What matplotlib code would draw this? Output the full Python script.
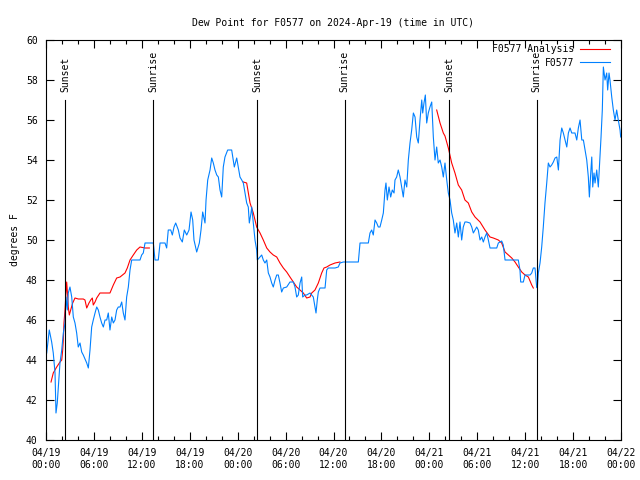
import pandas as pd
import matplotlib
matplotlib.use("Agg")
import matplotlib.pyplot as plt
import matplotlib.dates as mdates

plt.rcParams['font.family'] = 'DejaVu Sans Mono'
plt.rcParams['font.size'] = 7

start = pd.Timestamp('2024-04-19 00:00')

# observed dew point (hours since 04/19 00:00 UTC, degrees F)
obs_hours = [0.09, 0.41, 0.71, 0.91, 1.13, 1.25, 1.41, 1.54, 1.75, 1.97, 2.17, 2.38, 2.5, 2.67, 2.79,
             3.0, 3.22, 3.42, 3.63, 3.84, 4.04, 4.26, 4.47, 4.67, 5.1, 5.3, 5.51, 5.72, 5.92, 6.14,
             6.35, 6.55, 6.76, 6.97, 7.18, 7.39, 7.6, 7.8, 8.01, 8.23, 8.43, 8.64, 8.85, 9.05, 9.27,
             9.48, 9.68, 9.89, 10.1, 10.31, 10.52, 10.73, 11.14, 11.77, 11.98, 12.18, 12.4, 13.44,
             13.65, 14.06, 14.28, 14.9, 15.11, 15.31, 15.62, 15.82, 16.03, 16.24, 16.57, 16.78,
             17.07, 17.32, 17.62, 17.91, 18.16, 18.37, 18.53, 18.87, 19.2, 19.41, 19.62, 19.91,
             20.04, 20.25, 20.54, 20.75, 20.95, 21.16, 21.38, 21.58, 21.79, 22.0, 22.2, 22.41,
             22.75, 23.25, 23.45, 23.58, 23.88, 24.08, 24.29, 24.51, 24.71, 24.92, 25.13, 25.33,
             25.46, 25.67, 25.76, 25.96, 26.17, 26.38, 26.46, 26.8, 27.01, 27.21, 27.42, 27.64,
             27.84, 28.05, 28.26, 28.46, 28.68, 28.89, 29.09, 29.3, 29.51, 29.72, 30.14, 30.55,
             30.97, 31.18, 31.39, 31.59, 31.81, 32.02, 32.14, 32.43, 32.64, 33.06, 33.47, 33.68,
             33.81, 33.97, 34.1, 34.31, 34.94, 35.15, 35.35, 36.19, 36.6, 36.81, 37.23, 39.11,
             39.32, 40.36, 40.57, 40.78, 40.98, 41.2, 41.41, 41.61, 41.82, 42.04, 42.24, 42.45,
             42.57, 42.74, 42.95, 43.16, 43.36, 43.58, 43.7, 43.91, 44.11, 44.33, 44.54, 44.74,
             44.95, 45.17, 45.37, 45.58, 45.79, 46.0, 46.21, 46.42, 46.62, 46.83, 47.05, 47.17,
             47.33, 47.5, 47.67, 47.87, 48.08, 48.3, 48.5, 48.71, 48.92, 49.12, 49.34, 49.55,
             49.75, 49.96, 50.18, 50.38, 50.59, 50.8, 51.0, 51.21, 51.43, 51.63, 51.84, 52.05,
             52.25, 52.46, 52.68, 53.09, 53.31, 53.51, 53.93, 54.13, 54.35, 54.56, 54.76, 54.97,
             55.19, 55.39, 55.6, 56.44, 56.64, 57.06, 57.26, 57.48, 59.14, 59.35, 59.44, 59.77,
             59.98, 60.61, 60.82, 61.02, 61.23, 61.36, 61.44, 61.52, 61.65, 61.86, 62.07, 62.27,
             62.48, 62.7, 62.9, 63.11, 63.32, 63.53, 63.74, 63.96, 64.16, 64.37, 64.58, 64.78,
             64.99, 65.21, 65.41, 65.62, 65.83, 66.03, 66.24, 66.46, 66.66, 66.87, 67.09, 67.29,
             67.5, 67.71, 67.91, 68.04, 68.21, 68.34, 68.46, 68.62, 68.75, 68.96, 69.16, 69.37,
             69.5, 69.66, 69.79, 70.0, 70.21, 70.33, 70.5, 70.62, 70.84, 71.04, 71.25, 71.46,
             71.66, 71.88, 71.96]
obs_dewpt = [44.35, 45.5, 44.9, 44.35, 43.35, 41.35, 41.85, 42.6, 43.85, 44.5, 45.35, 45.85, 47.15, 46.5, 47.35,
             47.65, 47.15, 46.15, 45.85, 45.35, 44.65, 44.85, 44.4, 44.25, 43.85, 43.6, 44.5, 45.65, 46.0, 46.35,
             46.65, 46.5, 46.15, 45.85, 45.65, 46.0, 46.0, 46.35, 45.5, 46.15, 45.85, 46.0, 46.5, 46.65, 46.65,
             46.9, 46.35, 46.0, 47.15, 47.65, 48.5, 49.0, 49.0, 49.0, 49.25, 49.35, 49.85, 49.85,
             49.0, 49.0, 49.85, 49.85, 49.6, 50.5, 50.5, 50.25, 50.65, 50.85, 50.5, 50.1,
             49.9, 50.5, 50.25, 50.5, 51.4, 51.0, 50.0, 49.4, 49.85, 50.5, 51.4, 50.85,
             52.0, 53.0, 53.5, 54.1, 53.85, 53.5, 53.25, 53.15, 52.5, 52.15, 53.65, 54.15,
             54.5, 54.5, 54.0, 53.65, 54.1, 53.65, 53.15, 53.0, 52.85, 52.35, 51.85, 51.65,
             50.85, 51.35, 51.65, 50.85, 50.0, 49.5, 49.0, 49.15, 49.25, 49.0, 48.85, 49.0,
             48.35, 48.15, 47.85, 47.65, 48.0, 48.25, 48.25, 47.85, 47.4, 47.6, 47.65, 47.9,
             47.9, 47.65, 47.15, 47.25, 47.85, 48.15, 47.15, 47.25, 47.25, 47.35, 47.15, 46.65,
             46.35, 47.0, 47.4, 47.6, 47.6, 48.5, 48.6, 48.6, 48.65, 48.85, 48.9, 48.9,
             49.85, 49.85, 50.35, 50.5, 50.25, 51.0, 50.85, 50.65, 50.65, 51.0, 51.35, 52.5,
             52.85, 52.0, 52.65, 52.15, 52.5, 52.35, 53.0, 53.15, 53.5, 53.15, 52.65, 52.15,
             53.0, 52.65, 54.0, 54.85, 55.5, 56.35, 56.15, 55.15, 54.85, 56.0, 57.0, 56.35,
             56.85, 57.25, 55.85, 56.35, 56.65, 56.9, 55.15, 54.0, 54.65, 53.85, 54.0, 53.65,
             53.15, 53.85, 53.0, 52.35, 52.0, 51.35, 51.0, 50.35, 50.85, 50.15, 50.9, 50.0,
             50.65, 50.9, 50.9, 50.85, 50.65, 50.35, 50.65, 50.5, 50.0, 50.15, 49.9, 50.15,
             50.35, 50.0, 49.6, 49.6, 49.85, 49.95, 49.75, 49.0, 49.0, 48.5, 47.9, 47.9,
             48.25, 48.25, 48.35, 48.6, 48.6, 48.0, 47.65, 47.6, 48.35, 48.85, 49.65, 50.65,
             51.85, 52.85, 53.85, 53.65, 53.75, 53.9, 54.1, 54.15, 53.5, 55.0, 55.6, 55.35,
             55.0, 54.65, 55.35, 55.6, 55.35, 55.35, 55.35, 55.0, 55.6, 56.0, 55.0, 55.0,
             54.5, 54.0, 53.15, 52.15, 53.35, 54.15, 52.65, 53.35, 52.85, 53.5, 52.65, 54.15,
             55.15, 56.5, 58.65, 58.0, 58.35, 57.5, 58.35, 58.0, 57.15, 56.5, 56.0, 56.5,
             56.0, 55.5, 55.15]

# analysis, three separate night segments
ana1_hours = [0.63, 0.91, 1.34, 1.75, 1.97, 2.09, 2.17, 2.25, 2.38, 2.5, 2.59, 2.72, 2.79, 2.92, 3.09,
              3.34, 3.63, 4.04, 4.67, 4.88, 5.1, 5.38, 5.6, 5.8, 5.92, 6.14, 6.35, 6.76, 8.01, 8.43,
              8.85, 9.27, 9.89, 10.18, 10.52, 10.93, 11.36, 11.77, 12.4, 12.94]
ana1_dewpt = [42.9, 43.35, 43.65, 43.9, 44.0, 44.5, 45.0, 45.85, 46.5, 47.35, 47.9, 47.15, 46.65, 46.25, 46.5,
              46.85, 47.1, 47.05, 47.05, 47.0, 46.6, 46.85, 47.0, 47.1, 46.75, 46.9, 47.1, 47.35, 47.35, 47.75,
              48.1, 48.15, 48.35, 48.6, 49.0, 49.25, 49.5, 49.65, 49.6, 49.6]
ana2_hours = [24.71, 25.13, 25.55, 25.96, 26.38, 26.8, 27.21, 27.64, 28.05, 28.46, 28.89, 29.3, 29.72,
              30.14, 30.55, 30.97, 31.39, 31.81, 32.22, 32.64, 33.06, 33.27, 33.68, 34.1, 34.52, 34.81,
              35.15, 35.56, 36.19, 36.81]
ana2_dewpt = [52.9, 52.85, 51.85, 51.35, 50.65, 50.35, 50.0, 49.6, 49.4, 49.25, 49.15, 48.85, 48.6,
              48.4, 48.15, 47.9, 47.65, 47.5, 47.35, 47.1, 47.15, 47.35, 47.5, 47.85, 48.35, 48.6,
              48.65, 48.75, 48.85, 48.9]
ana3_hours = [48.92, 49.34, 49.75, 49.96, 50.38, 50.8, 51.21, 51.63, 52.05, 52.46, 52.88, 53.31, 53.72,
              54.35, 54.97, 55.6, 56.01, 56.64, 57.06, 57.48, 57.9, 58.32, 58.73, 59.14, 59.57, 59.98,
              60.4, 60.82, 61.02]
ana3_dewpt = [56.5, 55.85, 55.35, 55.2, 54.6, 53.85, 53.35, 52.75, 52.5, 52.0, 51.85, 51.4, 51.15,
              50.9, 50.5, 50.15, 50.1, 50.0, 49.85, 49.4, 49.25, 49.1, 48.9, 48.65, 48.4, 48.25,
              48.15, 47.75, 47.6]

sun_hours = [2.38, 13.44, 26.46, 37.4, 50.48, 61.45]
sun_labels = ['Sunset', 'Sunrise', 'Sunset', 'Sunrise', 'Sunset', 'Sunrise']


def to_time(hours):
    return start + pd.to_timedelta(hours, unit='h')


fig = plt.figure(figsize=(6.4, 4.8), dpi=100)
ax = fig.add_axes([46 / 640, 1 - 440 / 480, 575 / 640, 400 / 480])

ax.plot(to_time(ana1_hours), ana1_dewpt, color='#ff0000', lw=0.8, label='F0577 Analysis')
ax.plot(to_time(ana2_hours), ana2_dewpt, color='#ff0000', lw=0.8)
ax.plot(to_time(ana3_hours), ana3_dewpt, color='#ff0000', lw=0.8)
ax.plot(to_time(obs_hours), obs_dewpt, color='#0080ff', lw=0.8, label='F0577')

for h, lab in zip(sun_hours, sun_labels):
    t = to_time(h)
    ax.plot([t, t], [40, 57], color='black', lw=0.8)
    ax.text(t, 57.4, lab, rotation=90, ha='center', va='bottom')

ax.set_xlim(start, start + pd.Timedelta(hours=72))
ax.set_ylim(40, 60)
ax.set_yticks(range(40, 61, 2))
ax.xaxis.set_major_locator(mdates.HourLocator(byhour=[0, 6, 12, 18]))
ax.xaxis.set_minor_locator(mdates.HourLocator(byhour=range(0, 24, 2)))
ax.xaxis.set_major_formatter(mdates.DateFormatter('%m/%d\n%H:%M'))
ax.tick_params(which='both', direction='in', top=True, right=True, width=0.8)
ax.tick_params(which='major', length=6, pad=6)
ax.tick_params(which='minor', length=3)
for s in ax.spines.values():
    s.set_linewidth(0.8)

ax.set_title('Dew Point for F0577 on 2024-Apr-19 (time in UTC)', fontsize=7, pad=10)
ax.set_ylabel('degrees F')

ax.legend(loc='upper right', bbox_to_anchor=(0.981, 0.99), frameon=False, markerfirst=False,
          handlelength=3.1, borderaxespad=0, borderpad=0, labelspacing=0.4, handletextpad=0.6)

fig.savefig('out.png', dpi=100)
